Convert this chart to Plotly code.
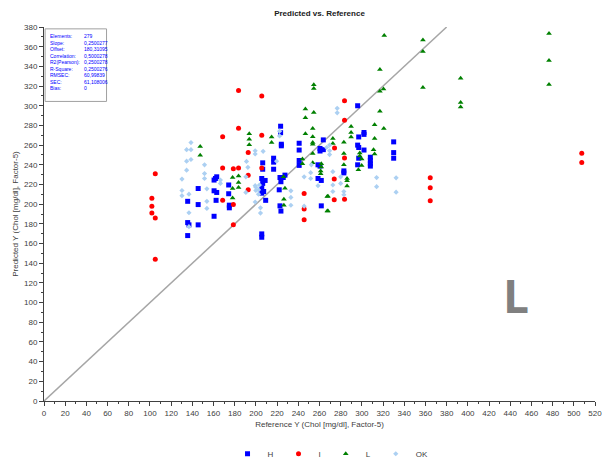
import plotly.graph_objects as go

# Reference vs. predicted cholesterol, grouped by sample class
H_ref = [296, 297, 302, 302, 296, 297, 302, 297, 296, 308, 308, 308, 308, 330, 330, 330, 283, 283,
         240.8, 240.8, 240.8, 240.8, 263.6, 260.5, 260.5, 263.6, 258.6, 260.5, 258.6, 261.7, 261.7,
         223.3, 223.3, 224, 224, 216.7, 216.7, 216.7, 206.4, 206.4, 205.5, 208.7, 206.4, 205.5, 207.3,
         222.7, 225.8, 227.4, 223.6, 222.7, 223.6, 174.9, 174.9, 205.5, 205.5,
         145.5, 135.6, 145.5, 135.6, 136.8, 145.5, 135.6, 160.5, 163, 161.8, 160.5, 163, 162.4, 160.5,
         174.3, 174.3, 209.2, 205.5, 222]
H_pred = [300, 268.3, 272.8, 270.9, 260, 257.6, 255, 246.7, 240, 247.7, 244.4, 241, 238.7, 263.3, 252.4, 246.7, 233.8, 231.8,
          261.9, 255, 244.4, 239.4, 265.3, 256.6, 254, 255.4, 240, 238.7, 226.1, 224.1, 198.3,
          279.2, 272.6, 260.9, 259.3, 246.7, 242.7, 235.5, 242, 235.5, 226.1, 224.1, 221.1, 216.2, 212.9,
          227.1, 227.1, 229.5, 222.8, 198.3, 193, 196.3, 199, 169.8, 166.4,
          215.9, 202.9, 199.6, 181.3, 179, 179, 168.1, 224.5, 227.8, 226.1, 213.6, 211.9, 203.9, 187.7,
          219.5, 210.6, 203.9, 211.2, 214.6]

I_ref = [101.8, 101.8, 101.8, 105, 105, 105,
         168.6, 168.6, 168.6,
         183.6, 205.5, 183.6, 205.5, 178.7, 183.6, 192.7, 205.5, 192.7, 192.7, 178.7, 178.7,
         283.6, 274.2, 283.6, 245.5, 245.5, 245.5, 273.9, 273.9, 283.6, 283.6,
         364.5, 364.5, 364.5, 507.5, 507.5]
I_pred = [206, 198, 191, 231, 186, 144,
          268.6, 236.7, 203.9,
          315.6, 310, 277.2, 269.9, 236, 236.7, 252.4, 236.7, 229.5, 214.6, 199.6, 179,
          285.2, 257, 247, 210.9, 195, 184.3, 225.5, 204.6, 204.9, 305,
          226.8, 216.8, 203.6, 251.7, 242.4]

L_ref = [321.1, 357.6, 357.6, 317, 317, 320.4, 357.6, 393.2, 393.2, 393.2, 476.6, 476.6, 476.6,
         317, 312, 320.7, 289.8, 289.8, 289.8, 272.6, 272.6, 283, 312, 311, 312, 283, 283,
         299.8, 299.8, 296.7, 286, 286, 286, 268, 268,
         254.6, 254.6, 246.7, 246.7, 254.6, 246.7, 253.6, 253.6, 253.6, 253.6, 253.6, 253.6,
         261.1, 261.1, 267.3, 267.3,
         193.7, 193.7, 193.7, 214.8, 214.8, 178, 183.6, 183.6, 183.6, 178, 178, 226.4, 226.4,
         147.4, 147.4, 243.9, 243.9, 226, 227.4, 298, 298, 261.7, 261.7]
L_pred = [371.3, 366.8, 355.1, 336.9, 314.6, 317, 318.6, 328, 303.4, 298.7, 373.3, 345.9, 321.6,
          294.4, 280.8, 276.8, 278.8, 272.9, 268.3, 266.6, 261.6, 262.9, 266.6, 255.4, 251, 251.4, 240,
          246, 239.4, 235, 226, 223.8, 218.5, 193, 208,
          321.3, 317.4, 296.7, 287.8, 293.1, 271.6, 276.8, 268.6, 262.6, 261, 251.4, 242,
          233.8, 231, 207.9, 193,
          271.6, 265.9, 260.3, 268.3, 262.6, 227.1, 228.5, 222.1, 216.9, 215.9, 206.2, 204.9, 198.9,
          258.6, 249.7, 246, 241, 227.8, 216.2, 252, 249, 241, 237.7]

OK_ref = [276.7, 276.7, 272.6, 272.6, 272.6, 280, 280, 283, 283, 313.9, 313.9, 332.3, 332.3,
          269.5, 269.5, 269.5, 266.7, 252.3, 251.7, 251.7, 245.5, 258.6, 245.5,
          166.5, 166.5, 199.3, 199.3, 206.8, 191.1, 192.4, 219.5, 190.5, 199.3, 202.4, 202.4, 199.3,
          204.3, 204.3, 233, 233, 233, 222.3, 222.3,
          138.7, 134.6, 138.7, 134.6, 138.7, 134.6, 130.2, 130.2, 130.2, 136.8, 136.8, 136.8,
          151.5, 151.5, 151.5, 153.7, 153.7, 153.7,
          190.5, 199.9, 199.9, 203.3]
OK_pred = [297.4, 292.8, 233, 219.5, 212.9, 227.8, 221.1, 212.9, 209.6, 227, 217.8, 226.8, 212.2,
           260, 254.3, 250.4, 257.6, 240, 232, 226.1, 227.8, 218.8, 198,
           224.5, 221.1, 254.3, 251, 253.7, 243.4, 237.4, 243.7, 227.8, 218.8, 214.6, 210.2, 202.2,
           196.3, 191, 213.6, 206.9, 198.9, 274.2, 269.3,
           262.6, 255.4, 255.4, 243.7, 245.4, 234.5, 225.5, 213.9, 208.6, 210.2, 191.3, 177.1,
           240, 231.1, 226.1, 215.6, 202.9, 195.7,
           211.9, 217.2, 213.9, 219.5]

# Identity (target) line end points
target_line = [0, 380]

stat_names = ["Elements:", "Slope:", "Offset:", "Correlation:", "R2(Pearson):",
              "R-Square:", "RMSEC:", "SEC:", "Bias:"]
stat_values = ["279", "0,2500277", "180,31095", "0,5000278", "0,2500278",
               "0,2500276", "60,99839", "61,108006", "0"]

FONT = "Liberation Sans Narrow, Arial Narrow, Liberation Sans, Arial, sans-serif"

fig = go.Figure()

fig.add_trace(go.Scatter(x=target_line, y=target_line, mode="lines",
                         line=dict(color="#a6a6a6", width=1.5),
                         showlegend=False, hoverinfo="skip"))

series = [
    ("H", H_ref, H_pred, "square", "#0000ff", 5),
    ("I", I_ref, I_pred, "circle", "#ff0000", 5),
    ("L", L_ref, L_pred, "triangle-up", "#008000", 5),
    ("OK", OK_ref, OK_pred, "diamond", "#acd0f2", 4),
]
for name, xs, ys, sym, col, sz in series:
    fig.add_trace(go.Scatter(x=xs, y=ys, mode="markers", name=name,
                             marker=dict(symbol=sym, color=col, size=sz,
                                         line=dict(width=0))))

axis_common = dict(
    showline=True, linecolor="#404040", linewidth=1,
    ticks="outside", ticklen=4, tickcolor="#404040", tickwidth=1,
    showgrid=False, zeroline=False,
    tickfont=dict(family=FONT, size=8, color="#404040"),
    minor=dict(ticks="outside", ticklen=2, tickcolor="#404040", dtick=10),
)

fig.update_xaxes(range=[0, 520], dtick=20, tick0=0,
                 title=dict(text="Reference Y (Chol [mg/dl], Factor-5)",
                            font=dict(family=FONT, size=8, color="#404040"), standoff=4),
                 **axis_common)
fig.update_yaxes(range=[0, 380], dtick=20, tick0=0,
                 title=dict(text="Predicted Y (Chol [mg/dl], Factor-5)",
                            font=dict(family=FONT, size=8, color="#404040"), standoff=4),
                 **axis_common)

# Statistics box in the upper-left corner
fig.add_shape(type="rect", xref="paper", yref="paper",
              x0=0.002, x1=0.1135, y0=0.801, y1=0.995,
              line=dict(color="#a0a0a0", width=1), fillcolor="white", layer="above")
fig.add_annotation(xref="paper", yref="paper", x=0.008, y=0.99,
                   xanchor="left", yanchor="top", align="left", showarrow=False,
                   text="<br>".join(stat_names),
                   font=dict(family=FONT, size=5, color="#0000ff"))
fig.add_annotation(xref="paper", yref="paper", x=0.069, y=0.99,
                   xanchor="left", yanchor="top", align="left", showarrow=False,
                   text="<br>".join(stat_values),
                   font=dict(family=FONT, size=5, color="#0000ff"))

# Class letter
fig.add_annotation(xref="paper", yref="paper", x=0.856, y=0.283,
                   xanchor="center", yanchor="middle", showarrow=False,
                   text="<b>L</b>",
                   font=dict(family="Open Sans, Arial, sans-serif", size=46, color="#808080"))

fig.update_layout(
    width=614, height=463,
    margin=dict(l=44, r=15, t=27, b=54),
    paper_bgcolor="white", plot_bgcolor="white",
    title=dict(text="<b>Predicted vs. Reference</b>", x=0.5, xref="paper",
               y=0.972, yanchor="middle",
               font=dict(family=FONT, size=8, color="#202020")),
    legend=dict(orientation="h", x=0.52, xanchor="center",
                yref="container", y=0.02, yanchor="middle",
                font=dict(family=FONT, size=8, color="#404040"),
                itemwidth=30),
    showlegend=True,
)

fig.write_html("out.html")
